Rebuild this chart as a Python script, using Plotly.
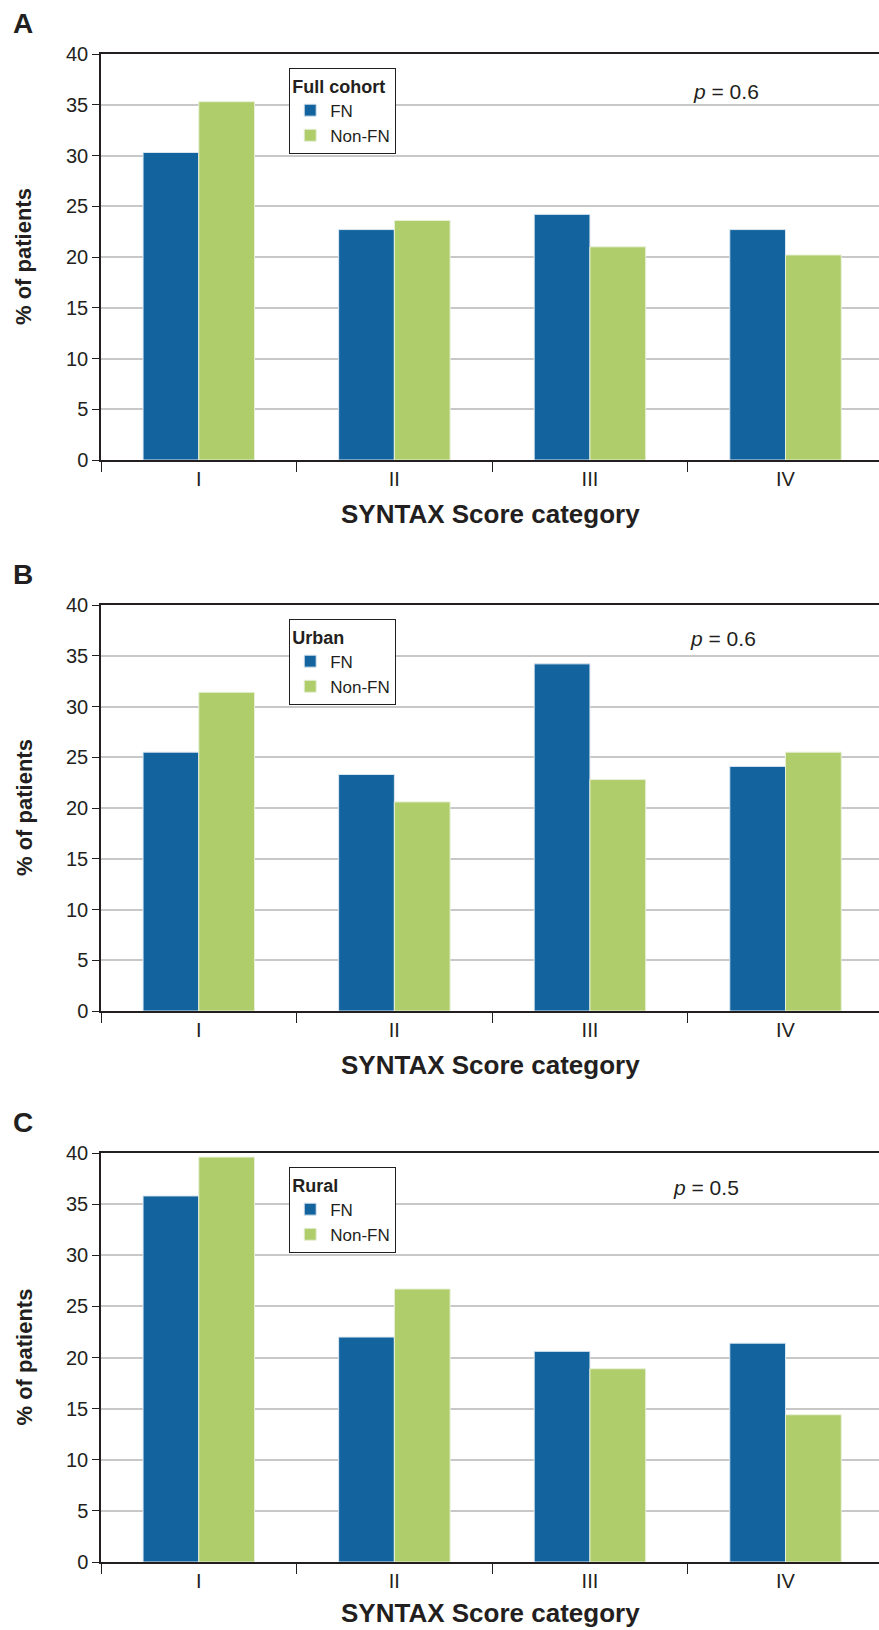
import plotly.graph_objects as go

categories = ["I", "II", "III", "IV"]
panel_letters = ["A", "B", "C"]
panel_groups = ["Full cohort", "Urban", "Rural"]
p_values = ["0.6", "0.6", "0.5"]
fn_full = [30.3, 22.7, 24.2, 22.7]
nonfn_full = [35.3, 23.6, 21.0, 20.2]
fn_urban = [25.5, 23.3, 34.2, 24.1]
nonfn_urban = [31.4, 20.6, 22.8, 25.5]
fn_rural = [35.8, 22.0, 20.6, 21.4]
nonfn_rural = [39.6, 26.7, 18.9, 14.4]
y_ticks = [0, 5, 10, 15, 20, 25, 30, 35, 40]

fn_series = [fn_full, fn_urban, fn_rural]
nonfn_series = [nonfn_full, nonfn_urban, nonfn_rural]

W, H = 879, 1630
BLUE = "#13649E"
GREEN = "#AFCD6A"
TXT = "#231F20"
FONT = "Liberation Sans, Arial, sans-serif"

# panel pixel geometry (top of axis = 40, bottom = 0)
tops = [54, 605, 1153]
bottoms = [460, 1011, 1562]
x_left = 101

fig = go.Figure()
legend_names = ["legend", "legend2", "legend3"]
layout = dict(
    width=W, height=H, autosize=False,
    margin=dict(l=0, r=0, t=0, b=0, autoexpand=False),
    paper_bgcolor="white", plot_bgcolor="white",
    barmode="group", bargap=0.43, bargroupgap=0.0,
    font=dict(family=FONT, size=20, color=TXT),
    annotations=[],
)

for i in range(3):
    ax = "" if i == 0 else str(i + 1)
    xref = "x" + ax
    yref = "y" + ax
    leg = legend_names[i]
    fig.add_trace(go.Bar(x=categories, y=fn_series[i], name="FN",
                         marker=dict(color=BLUE, line=dict(color="#DCE6F0", width=1)),
                         xaxis=xref, yaxis=yref, legend=leg))
    fig.add_trace(go.Bar(x=categories, y=nonfn_series[i], name="Non-FN",
                         marker=dict(color=GREEN, line=dict(color="#E8F0D8", width=1)),
                         xaxis=xref, yaxis=yref, legend=leg))
    y0 = 1 - bottoms[i] / H
    y1 = 1 - tops[i] / H
    layout["xaxis" + ax] = dict(
        domain=[x_left / W, 1.0], anchor=yref, type="category",
        range=[-0.5, 3.478],
        showline=True, linecolor=TXT, linewidth=1.5, mirror=True,
        ticks="outside", ticklen=10, tickcolor=TXT, tickwidth=1.2,
        tickson="boundaries", showgrid=False, automargin=False,
        tickfont=dict(size=20, family=FONT, color=TXT),
    )
    layout["yaxis" + ax] = dict(
        domain=[y0, y1], anchor=xref, range=[0, 40], tickvals=y_ticks,
        showline=True, linecolor=TXT, linewidth=1.5, automargin=False,
        ticks="outside", ticklen=7, tickcolor=TXT, tickwidth=1.2,
        showgrid=True, gridcolor="#C8C8C8", gridwidth=2, zeroline=False,
        tickfont=dict(size=20, family=FONT, color=TXT),
    )
    layout[leg] = dict(
        x=289 / W, y=1 - (tops[i] + 14) / H, xanchor="left", yanchor="top",
        bgcolor="white", bordercolor=TXT, borderwidth=1.2,
        title=dict(text="<b>" + panel_groups[i] + "</b>", font=dict(size=18, family=FONT, color=TXT), side="top"),
        font=dict(size=17, family=FONT, color=TXT),
        tracegroupgap=0, itemwidth=30,
    )
    # panel letter
    layout["annotations"].append(dict(
        text="<b>" + panel_letters[i] + "</b>", x=11 / W, y=1 - (tops[i] - 31) / H,
        xref="paper", yref="paper", xanchor="left", yanchor="middle", showarrow=False,
        font=dict(size=28, family=FONT, color=TXT)))
    # y title
    layout["annotations"].append(dict(
        text="<b>% of patients</b>", x=24 / W, y=1 - (tops[i] + bottoms[i]) / 2 / H,
        xref="paper", yref="paper", xanchor="center", yanchor="middle", showarrow=False,
        textangle=-90, font=dict(size=22, family=FONT, color=TXT)))
    # x title
    ty = min(bottoms[i] + 54, H - 17)
    layout["annotations"].append(dict(
        text="<b>SYNTAX Score category</b>", x=(x_left + W) / 2 / W, y=1 - ty / H,
        xref="paper", yref="paper", xanchor="center", yanchor="middle", showarrow=False,
        font=dict(size=26, family=FONT, color=TXT)))
    # p value
    px = [726, 723, 706][i]
    py = [91, 639, 1187][i]
    layout["annotations"].append(dict(
        text="<i>p</i> = " + p_values[i], x=px / W, y=1 - py / H,
        xref="paper", yref="paper", xanchor="center", yanchor="middle", showarrow=False,
        font=dict(size=21, family=FONT, color=TXT)))

fig.update_layout(**layout)
fig.write_html("out.html", config={"responsive": False, "displayModeBar": False},
               post_script="document.body.style.margin='0px';document.body.style.overflow='hidden';"
                           "document.documentElement.style.overflow='hidden';")
